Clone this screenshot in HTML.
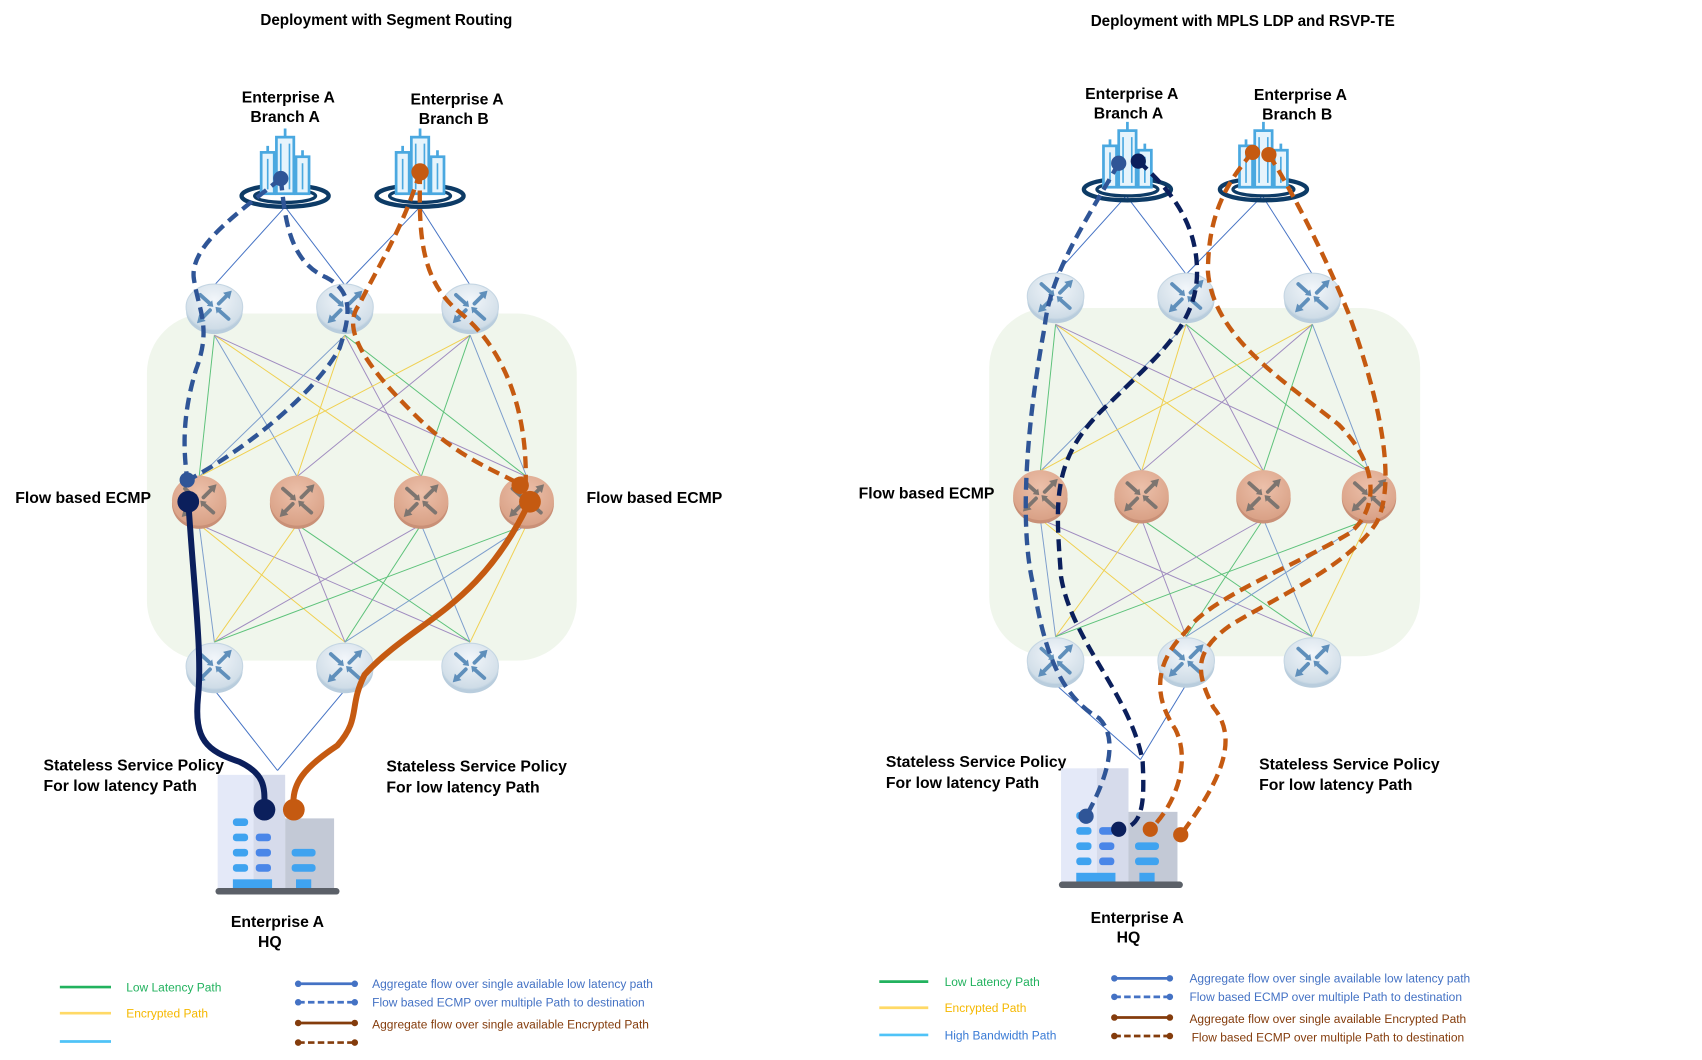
<!DOCTYPE html>
<html><head><meta charset="utf-8"><style>
html,body{margin:0;padding:0;background:#fff}
svg{display:block}
text{font-family:"Liberation Sans",Arial,sans-serif}
.lbl{font-weight:bold;font-size:14.5px;fill:#000}
.lg{font-size:11px}
</style></head><body>
<svg id="s" width="1702" height="1060" viewBox="0 0 1564 974" xmlns="http://www.w3.org/2000/svg">
<defs>
<radialGradient id="gb" cx="50%" cy="35%" r="65%"><stop offset="0" stop-color="#f2f6fa"/><stop offset="1" stop-color="#cddbe6"/></radialGradient>
<radialGradient id="go" cx="50%" cy="35%" r="65%"><stop offset="0" stop-color="#ecc0aa"/><stop offset="1" stop-color="#d9a186"/></radialGradient>
<g id="rb">
<ellipse cx="0" cy="4" rx="26" ry="21" fill="#b9cddd"/>
<ellipse cx="0" cy="0" rx="26" ry="21" fill="url(#gb)" stroke="#c5d6e3"/>
<g stroke="#5f8fbb" stroke-width="3.5" stroke-linecap="round">
<line x1="-13" y1="-11" x2="-4" y2="-3"/><line x1="13" y1="11" x2="4" y2="3"/>
<line x1="4" y1="-3" x2="13" y2="-12"/><line x1="-4" y1="3" x2="-13" y2="12"/>
</g>
<g fill="#5f8fbb"><path d="M-1,0 L-7,-1 L-2,-6z"/><path d="M1,0 L7,1 L2,6z"/><path d="M16,-15 L8,-13 L14,-7z"/><path d="M-16,15 L-8,13 L-14,7z"/></g>
</g>
<g id="ro">
<ellipse cx="0" cy="3" rx="25" ry="23" fill="#c99077"/>
<ellipse cx="0" cy="0" rx="25" ry="23" fill="url(#go)"/>
<g stroke="#7d7570" stroke-width="3.5" stroke-linecap="round">
<line x1="-13" y1="-11" x2="-4" y2="-3"/><line x1="13" y1="11" x2="4" y2="3"/>
<line x1="4" y1="-3" x2="13" y2="-12"/><line x1="-4" y1="3" x2="-13" y2="12"/>
</g>
<g fill="#7d7570"><path d="M-1,0 L-7,-1 L-2,-6z"/><path d="M1,0 L7,1 L2,6z"/><path d="M16,-15 L8,-13 L14,-7z"/><path d="M-16,15 L-8,13 L-14,7z"/></g>
</g>
<g id="br">
<ellipse cx="0" cy="22" rx="40" ry="10" fill="none" stroke="#0d3b66" stroke-width="4"/>
<ellipse cx="0" cy="22" rx="28" ry="6" fill="none" stroke="#0d3b66" stroke-width="3"/>
<rect x="-22" y="-18" width="12" height="38" fill="#e6f4fc" stroke="#4aa8e0" stroke-width="2.5"/>
<rect x="-8" y="-32" width="16" height="52" fill="#e6f4fc" stroke="#4aa8e0" stroke-width="2.5"/>
<rect x="10" y="-14" width="12" height="34" fill="#e6f4fc" stroke="#4aa8e0" stroke-width="2.5"/>
<path d="M0,-40 L0,-32 M-16,-24 L-16,-18 M16,-20 L16,-14" stroke="#4aa8e0" stroke-width="2.5"/>
<g stroke="#4aa8e0" stroke-width="1.5"><path d="M-4,-26v42M4,-26v42M-16,-12v28M16,-8v24"/></g>
</g>
<g id="hq">
<rect x="0" y="0" width="62" height="105" fill="#e4e9f8"/>
<rect x="62" y="40" width="45" height="65" fill="#c3c9d6"/>
<rect x="33" y="0" width="29" height="105" fill="#d6dbeb"/>
<g fill="#3fa3f0"><rect x="14" y="40" width="14" height="7" rx="3"/><rect x="14" y="54" width="14" height="7" rx="3"/><rect x="14" y="68" width="14" height="7" rx="3"/><rect x="14" y="82" width="14" height="7" rx="3"/>
<rect x="68" y="68" width="22" height="7" rx="3"/><rect x="68" y="82" width="22" height="7" rx="3"/>
<rect x="14" y="96" width="36" height="10"/><rect x="72" y="96" width="14" height="10"/></g>
<g fill="#4a86e8"><rect x="35" y="54" width="14" height="7" rx="3"/><rect x="35" y="68" width="14" height="7" rx="3"/><rect x="35" y="82" width="14" height="7" rx="3"/></g>
<rect x="-2" y="104" width="114" height="6" rx="3" fill="#5b6068"/>
</g>
</defs>

<rect x="135" y="288" width="395" height="319" rx="55" fill="#f0f6ec"/>
<rect x="909" y="283" width="396" height="320" rx="55" fill="#f0f6ec"/>
<g id="mesh" stroke-width="0.9" fill="none"></g>

<text x="355" y="23" text-anchor="middle" class="lbl" style="font-size:14px">Deployment with Segment Routing</text>
<text x="1142" y="24" text-anchor="middle" class="lbl" style="font-size:14px">Deployment with MPLS LDP and RSVP-TE</text>

<text x="265" y="94" text-anchor="middle" class="lbl">Enterprise A</text>
<text x="262" y="112" text-anchor="middle" class="lbl">Branch A</text>
<text x="420" y="96" text-anchor="middle" class="lbl">Enterprise A</text>
<text x="417" y="114" text-anchor="middle" class="lbl">Branch B</text>
<text x="14" y="462" class="lbl">Flow based ECMP</text>
<text x="539" y="462" class="lbl">Flow based ECMP</text>
<text x="40" y="708" class="lbl">Stateless Service Policy</text>
<text x="40" y="727" class="lbl">For low latency Path</text>
<text x="355" y="709" class="lbl">Stateless Service Policy</text>
<text x="355" y="728" class="lbl">For low latency Path</text>
<text x="255" y="852" text-anchor="middle" class="lbl">Enterprise A</text>
<text x="248" y="870" text-anchor="middle" class="lbl">HQ</text>

<text x="1040" y="91" text-anchor="middle" class="lbl">Enterprise A</text>
<text x="1037" y="109" text-anchor="middle" class="lbl">Branch A</text>
<text x="1195" y="92" text-anchor="middle" class="lbl">Enterprise A</text>
<text x="1192" y="110" text-anchor="middle" class="lbl">Branch B</text>
<text x="789" y="458" class="lbl">Flow based ECMP</text>
<text x="814" y="705" class="lbl">Stateless Service Policy</text>
<text x="814" y="724" class="lbl">For low latency Path</text>
<text x="1157" y="707" class="lbl">Stateless Service Policy</text>
<text x="1157" y="726" class="lbl">For low latency Path</text>
<text x="1045" y="848" text-anchor="middle" class="lbl">Enterprise A</text>
<text x="1037" y="866" text-anchor="middle" class="lbl">HQ</text>

<use href="#br" x="262" y="158"/>
<use href="#br" x="386" y="158"/>
<use href="#br" x="1036" y="152"/>
<use href="#br" x="1161" y="152"/>
<g id="routers"></g>
<use href="#hq" x="200" y="712"/>
<use href="#hq" x="975" y="706"/>

<g fill="none" stroke-linecap="butt">
<path d="M258,164 C220,195 175,225 178,255 C182,285 195,300 180,340 C168,380 168,410 172,440" stroke="#2f5597" stroke-width="4" stroke-dasharray="11,6"/>
<path d="M258,164 C262,200 265,240 300,255 C325,268 322,290 312,320 C290,360 230,410 175,440" stroke="#2f5597" stroke-width="4" stroke-dasharray="11,6"/>
<path d="M386,158 C370,210 350,240 330,280 C315,300 330,330 380,380 C420,420 450,430 478,445" stroke="#c55a11" stroke-width="4" stroke-dasharray="11,6"/>
<path d="M386,158 C385,210 385,255 420,285 C465,320 485,380 483,445" stroke="#c55a11" stroke-width="4" stroke-dasharray="11,6"/>
<path d="M173,460 C178,540 186,600 182,640 C178,680 190,690 220,700 C245,712 243,725 243,743" stroke="#0b1f5c" stroke-width="5.5"/>
<path d="M487,460 C440,560 380,570 335,620 C320,650 332,660 310,685 C280,705 267,720 270,743" stroke="#c55a11" stroke-width="5.5"/>
<g fill="#2f5597"><circle cx="258" cy="164" r="7"/><circle cx="172" cy="441" r="7"/></g>
<g fill="#c55a11"><circle cx="386" cy="158" r="8"/><circle cx="478" cy="446" r="8"/><circle cx="487" cy="461" r="10"/><circle cx="270" cy="744" r="10"/></g>
<g fill="#0b1f5c"><circle cx="173" cy="461" r="10"/><circle cx="243" cy="744" r="10"/></g>
</g>

<g fill="none" stroke-width="4" stroke-dasharray="11,6">
<path d="M1028,150 C1000,200 965,250 960,300 C945,380 935,480 950,540 C960,600 975,640 1010,660 C1030,680 1015,720 998,750" stroke="#2f5597"/>
<path d="M1046,148 C1070,170 1100,200 1100,250 C1100,300 1060,330 1020,370 C965,420 970,460 975,530 C985,590 1040,640 1050,700 C1052,740 1050,760 1028,762" stroke="#0b1f5c"/>
<path d="M1151,140 C1125,170 1110,200 1110,250 C1115,310 1180,350 1230,390 C1270,430 1265,470 1240,490 C1190,520 1110,550 1090,580 C1060,610 1060,640 1080,670 C1095,700 1080,740 1057,762" stroke="#c55a11"/>
<path d="M1166,142 C1190,180 1220,240 1240,290 C1265,360 1285,440 1265,480 C1240,520 1170,550 1130,575 C1095,600 1100,620 1115,650 C1140,680 1120,720 1085,767" stroke="#c55a11"/>
</g>
<g fill="#2f5597"><circle cx="1028" cy="150" r="7"/><circle cx="998" cy="750" r="7"/></g>
<g fill="#0b1f5c"><circle cx="1046" cy="148" r="7"/><circle cx="1028" cy="762" r="7"/></g>
<g fill="#c55a11"><circle cx="1151" cy="140" r="7"/><circle cx="1166" cy="142" r="7"/><circle cx="1057" cy="762" r="7"/><circle cx="1085" cy="767" r="7"/></g>

<g stroke-width="2.5">
<line x1="55" y1="907" x2="102" y2="907" stroke="#22b25e"/>
<line x1="55" y1="931" x2="102" y2="931" stroke="#ffd966"/>
<line x1="55" y1="957" x2="102" y2="957" stroke="#4fc3f7"/>
<line x1="808" y1="902" x2="853" y2="902" stroke="#22b25e"/>
<line x1="808" y1="926" x2="853" y2="926" stroke="#ffd966"/>
<line x1="808" y1="951" x2="853" y2="951" stroke="#4fc3f7"/>
</g>
<text x="116" y="911" class="lg" fill="#22b25e">Low Latency Path</text>
<text x="116" y="935" class="lg" fill="#f5b800">Encrypted Path</text>
<text x="868" y="906" class="lg" fill="#22b25e">Low Latency Path</text>
<text x="868" y="930" class="lg" fill="#f5b800">Encrypted Path</text>
<text x="868" y="955" class="lg" fill="#3a7bd5">High Bandwidth Path</text>
<g stroke-width="2.5">
<line x1="274" y1="904" x2="326" y2="904" stroke="#4472c4"/>
<line x1="274" y1="921" x2="326" y2="921" stroke="#4472c4" stroke-dasharray="6,3"/>
<line x1="274" y1="940" x2="326" y2="940" stroke="#843c0c"/>
<line x1="274" y1="958" x2="326" y2="958" stroke="#843c0c" stroke-dasharray="6,3"/>
<line x1="1024" y1="899" x2="1075" y2="899" stroke="#4472c4"/>
<line x1="1024" y1="916" x2="1075" y2="916" stroke="#4472c4" stroke-dasharray="6,3"/>
<line x1="1024" y1="935" x2="1075" y2="935" stroke="#843c0c"/>
<line x1="1024" y1="952" x2="1075" y2="952" stroke="#843c0c" stroke-dasharray="6,3"/>
</g>
<g fill="#4472c4"><circle cx="274" cy="904" r="3"/><circle cx="326" cy="904" r="3"/><circle cx="274" cy="921" r="3"/><circle cx="326" cy="921" r="3"/>
<circle cx="1024" cy="899" r="3"/><circle cx="1075" cy="899" r="3"/><circle cx="1024" cy="916" r="3"/><circle cx="1075" cy="916" r="3"/></g>
<g fill="#843c0c"><circle cx="274" cy="940" r="3"/><circle cx="326" cy="940" r="3"/><circle cx="274" cy="958" r="3"/><circle cx="326" cy="958" r="3"/>
<circle cx="1024" cy="935" r="3"/><circle cx="1075" cy="935" r="3"/><circle cx="1024" cy="952" r="3"/><circle cx="1075" cy="952" r="3"/></g>
<text x="342" y="908" class="lg" fill="#4472c4">Aggregate flow over single available low latency path</text>
<text x="342" y="925" class="lg" fill="#4472c4">Flow based ECMP over multiple Path to destination</text>
<text x="342" y="945" class="lg" fill="#843c0c">Aggregate flow over single available Encrypted Path</text>
<text x="1093" y="903" class="lg" fill="#4472c4">Aggregate flow over single available low latency path</text>
<text x="1093" y="920" class="lg" fill="#4472c4">Flow based ECMP over multiple Path to destination</text>
<text x="1093" y="940" class="lg" fill="#843c0c">Aggregate flow over single available Encrypted Path</text>
<text x="1095" y="957" class="lg" fill="#843c0c">Flow based ECMP over multiple Path to destination</text>

<script>
(function(){
var NS="http://www.w3.org/2000/svg";
var mesh=document.getElementById("mesh"), R=document.getElementById("routers");
var cols=["#5dc27a","#7c9dcc","#f0d050","#a08cc0"];
function ln(x1,y1,x2,y2,c,w){var l=document.createElementNS(NS,"line");l.setAttribute("x1",x1);l.setAttribute("y1",y1);l.setAttribute("x2",x2);l.setAttribute("y2",y2);l.setAttribute("stroke",c);l.setAttribute("stroke-width",w||0.9);mesh.appendChild(l);}
function use(id,x,y){var u=document.createElementNS(NS,"use");u.setAttribute("href","#"+id);u.setAttribute("x",x);u.setAttribute("y",y);R.appendChild(u);}
var D=[
 {top:[197,317,432],mid:[183,273,387,484],bot:[197,317,432],ty:282,my:460,by:612,ba:262,bb:386,bY:190,hq:[255,708]},
 {top:[970,1090,1206],mid:[956,1049,1161,1258],bot:[970,1090,1206],ty:272,my:455,by:607,ba:1035,bb:1160,bY:180,hq:[1048,698]}];
D.forEach(function(d){
 d.top.forEach(function(t,i){d.mid.forEach(function(m,j){ln(t,d.ty+26,m,d.my-22,cols[(i+j)%4]);});});
 d.mid.forEach(function(m,j){d.bot.forEach(function(b,i){ln(m,d.my+22,b,d.by-22,cols[(i+j+1)%4]);});});
 ln(d.ba,d.bY,d.top[0],d.ty-20,"#4472c4");ln(d.ba,d.bY,d.top[1],d.ty-20,"#4472c4");
 ln(d.bb,d.bY,d.top[1],d.ty-20,"#4472c4");ln(d.bb,d.bY,d.top[2],d.ty-20,"#4472c4");
 ln(d.bot[0],d.by+22,d.hq[0],d.hq[1],"#4472c4");ln(d.bot[1],d.by+22,d.hq[0],d.hq[1],"#4472c4");
 d.top.forEach(function(t){use("rb",t,d.ty);});
 d.mid.forEach(function(m){use("ro",m,d.my);});
 d.bot.forEach(function(b){use("rb",b,d.by);});
});
})();
</script>
</svg>
</body></html>
